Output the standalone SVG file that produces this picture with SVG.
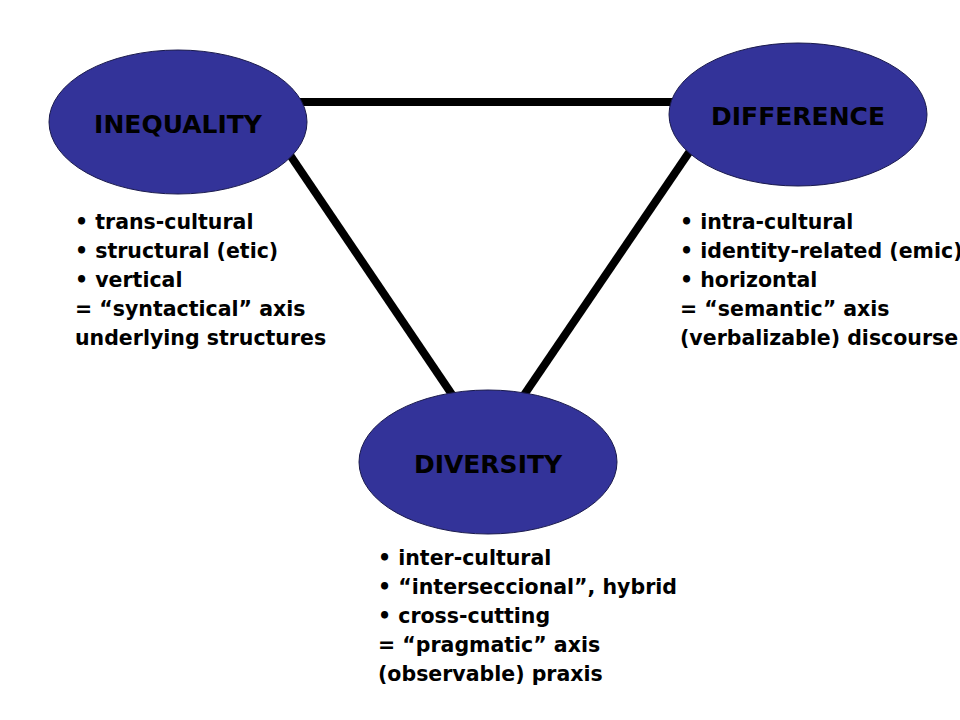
<svg xmlns="http://www.w3.org/2000/svg" width="960" height="720" viewBox="0 0 960 720">
<style>
.node{fill:#333399;stroke:#1a1a4d;stroke-width:1}
.title{font-family:"DejaVu Sans",sans-serif;font-weight:bold;font-size:25px;fill:#000;text-anchor:middle}
.body{font-family:"DejaVu Sans",sans-serif;font-weight:bold;font-size:20.5px;fill:#000}
.conn{stroke:#000;stroke-width:8;fill:none}
</style>
<rect width="960" height="720" fill="#fff"/>
<g id="connectors">
<line class="conn" x1="300" y1="102" x2="675" y2="102"/>
<line class="conn" x1="288" y1="152" x2="453" y2="396"/>
<line class="conn" x1="692" y1="148" x2="524" y2="395"/>
</g>
<g id="inequality">
<ellipse class="node" cx="178" cy="122" rx="129" ry="72"/>
<text class="title" x="178" y="133">INEQUALITY</text>
</g>
<g id="difference">
<ellipse class="node" cx="798" cy="114.5" rx="129" ry="71.5"/>
<text class="title" x="798" y="125">DIFFERENCE</text>
</g>
<g id="diversity">
<ellipse class="node" cx="488" cy="462" rx="129" ry="72"/>
<text class="title" x="488" y="473">DIVERSITY</text>
</g>
<g id="inequality-notes">
<text class="body" x="75" y="229">• trans-cultural</text>
<text class="body" x="75" y="258">• structural (etic)</text>
<text class="body" x="75" y="287">• vertical</text>
<text class="body" x="75" y="316">= “syntactical” axis</text>
<text class="body" x="75" y="345">underlying structures</text>
</g>
<g id="difference-notes">
<text class="body" x="680" y="229">• intra-cultural</text>
<text class="body" x="680" y="258">• identity-related (emic)</text>
<text class="body" x="680" y="287">• horizontal</text>
<text class="body" x="680" y="316">= “semantic” axis</text>
<text class="body" x="680" y="345">(verbalizable) discourse</text>
</g>
<g id="diversity-notes">
<text class="body" x="378" y="565">• inter-cultural</text>
<text class="body" x="378" y="594">• “interseccional”, hybrid</text>
<text class="body" x="378" y="623">• cross-cutting</text>
<text class="body" x="378" y="652">= “pragmatic” axis</text>
<text class="body" x="378" y="681">(observable) praxis</text>
</g>
</svg>
